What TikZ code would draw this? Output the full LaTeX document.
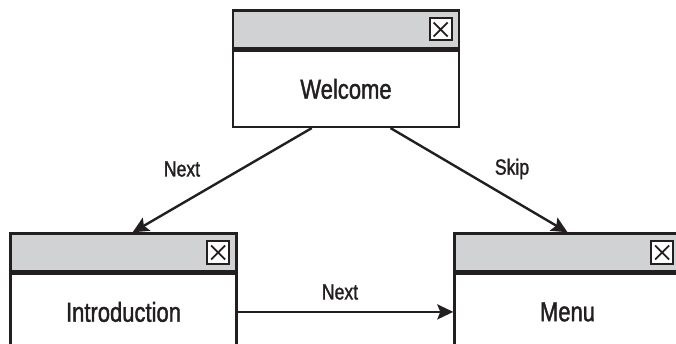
\documentclass[tikz,border=0pt]{standalone}
\usepackage{fontspec}
\setmainfont{Liberation Sans}[FakeStretch=0.8, FakeBold=1.4]
\usetikzlibrary{positioning,calc,arrows.meta}
\definecolor{bargray}{RGB}{209,210,212}
\definecolor{ink}{RGB}{35,31,32}

\tikzset{
  winbody/.style={draw=ink, line width=2.4pt, minimum width=226pt, minimum height=76pt, inner sep=0pt, text=ink, font=\fontsize{27.5}{30}\selectfont},
  winbar/.style={draw=ink, fill=bargray, line width=2.4pt, minimum width=226pt, minimum height=38pt, inner sep=0pt},
  closebox/.style={draw=ink, fill=white, line width=2pt, minimum size=22pt, inner sep=0pt,
    path picture={\draw[ink, line width=1.8pt]
      ($(path picture bounding box.south west)+(4pt,4pt)$) -- ($(path picture bounding box.north east)+(-4pt,-4pt)$)
      ($(path picture bounding box.north west)+(4pt,-4pt)$) -- ($(path picture bounding box.south east)+(-4pt,4pt)$);}},
  lbl/.style={text=ink, font=\fontsize{22}{24}\selectfont},
  flow/.style={draw=ink, line width=2.4pt, -{Stealth[length=16pt,width=15pt,inset=3pt]}}
}

\begin{document}
\begin{tikzpicture}[x=1pt,y=-1pt]
    \useasboundingbox (0,0) rectangle (676,344);

    % Welcome window
    \node[winbar] (welcomebar) at (346,29.5) {};
    \node[winbody, below=0pt of welcomebar] (welcome) {Welcome};
    \node[closebox, left=7.5pt of welcomebar.east] (welcomeclose) {};

    % Introduction window
    \node[winbar] (introbar) at (123.5,252.5) {};
    \node[winbody, below=0pt of introbar] (intro) {Introduction};
    \node[closebox, left=7.5pt of introbar.east] (introclose) {};

    % Menu window
    \node[winbar] (menubar) at (567.5,252.5) {};
    \node[winbody, below=0pt of menubar] (menu) {Menu};
    \node[closebox, left=7.5pt of menubar.east] (menuclose) {};

    % Connectors
    \draw[flow] ($(welcome.south west)!0.35!(welcome.south east)$) -- ($(introbar.north west)!0.54!(introbar.north east)$);
    \draw[flow] ($(welcome.south west)!0.695!(welcome.south east)$) -- ($(menubar.north west)!0.5!(menubar.north east)$);
    \draw[flow] (intro.east) -- (menu.west);

    % Labels
    \node[lbl] (nextleft) at (182,169) {Next};
    \node[lbl] (skip) at (512,169) {Skip};
    \node[lbl] (nextmid) at (340,292) {Next};
\end{tikzpicture}
\end{document}
